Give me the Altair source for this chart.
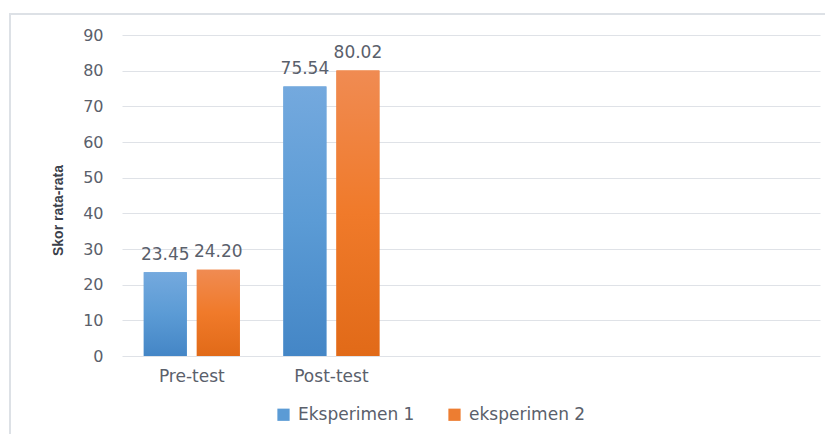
import altair as alt
import pandas as pd

categories = ["Pre-test", "Post-test"]
series_names = ["Eksperimen 1", "eksperimen 2"]
eksperimen_1 = [23.45, 75.54]
eksperimen_2 = [24.20, 80.02]
empty_slots = ["_c3", "_c4", "_c5"]
y_ticks = [0, 10, 20, 30, 40, 50, 60, 70, 80, 90]

rows = []
for i, c in enumerate(categories):
    rows.append({"cat": c, "series": series_names[0], "val": eksperimen_1[i]})
    rows.append({"cat": c, "series": series_names[1], "val": eksperimen_2[i]})
df = pd.DataFrame(rows)

TXT = "#5a606b"
FONT = "DejaVu Sans"

grad_blue = alt.Gradient(
    gradient="linear", x1=0, x2=0, y1=0, y2=1,
    stops=[alt.GradientStop(color="#74a9de", offset=0),
           alt.GradientStop(color="#5b9bd5", offset=0.5),
           alt.GradientStop(color="#4486c6", offset=1)])
grad_orange = alt.Gradient(
    gradient="linear", x1=0, x2=0, y1=0, y2=1,
    stops=[alt.GradientStop(color="#f08b52", offset=0),
           alt.GradientStop(color="#f07a2a", offset=0.5),
           alt.GradientStop(color="#e16a18", offset=1)])

x_enc = alt.X("cat:N",
              scale=alt.Scale(domain=categories + empty_slots, paddingInner=0.312, paddingOuter=0.156),
              axis=alt.Axis(values=categories, title=None, ticks=False, domain=False, grid=False,
                            labelAngle=0, labelFont=FONT, labelFontSize=17, labelColor=TXT,
                            labelPadding=12))
xo_enc = alt.XOffset("series:N", scale=alt.Scale(domain=series_names, paddingInner=0.1887, paddingOuter=0))
y_enc = alt.Y("val:Q",
              scale=alt.Scale(domain=[0, 90], nice=False),
              axis=alt.Axis(values=y_ticks, title="Skor rata-rata", ticks=False, domain=False,
                            grid=True, gridColor="#dfe2e7", gridWidth=1,
                            labelFont=FONT, labelFontSize=16, labelColor=TXT, labelPadding=19,
                            titleFont="Liberation Sans", titleFontWeight="bold", titleFontSize=14,
                            titleColor="#3a404a", titleX=-57, titleY=175))

base = alt.Chart(df)

frame = base.mark_rect(filled=False, stroke="#dde1e6", strokeWidth=2).encode(
    x=alt.value(-112), x2=alt.value(760), y=alt.value(-21), y2=alt.value(460)
).transform_filter("datum.cat == 'Pre-test' && datum.series == 'Eksperimen 1'")

bars = base.mark_bar().encode(
    x=x_enc, xOffset=xo_enc, y=y_enc,
    color=alt.Color("series:N",
                    scale=alt.Scale(domain=series_names, range=["#5b9bd5", "#ed7d31"]),
                    legend=alt.Legend(title=None, orient="none", direction="horizontal",
                                      legendX=153, legendY=371, symbolType="square",
                                      symbolSize=150, symbolStrokeWidth=0, labelFont=FONT,
                                      labelFontSize=17, labelColor=TXT, labelOffset=6,
                                      columnPadding=31)))

bars_b = base.mark_bar(fill=grad_blue).encode(x=x_enc, xOffset=xo_enc, y=y_enc).transform_filter(
    alt.datum.series == series_names[0])
bars_o = base.mark_bar(fill=grad_orange).encode(x=x_enc, xOffset=xo_enc, y=y_enc).transform_filter(
    alt.datum.series == series_names[1])

labels = base.mark_text(font=FONT, fontSize=17, color=TXT, baseline="alphabetic", dy=-12.5).encode(
    x=x_enc, xOffset=xo_enc, y=y_enc, text=alt.Text("val:Q", format=".2f"))

chart = alt.layer(frame, bars, bars_b, bars_o, labels).properties(
    width=698, height=321,
    autosize=alt.AutoSizeParams(type="none"),
    padding={"left": 114, "top": 27, "right": 5, "bottom": 78},
    background="white",
).configure_view(stroke=None)

chart.save("out.html", embed_options={"renderer": "svg", "actions": False})
